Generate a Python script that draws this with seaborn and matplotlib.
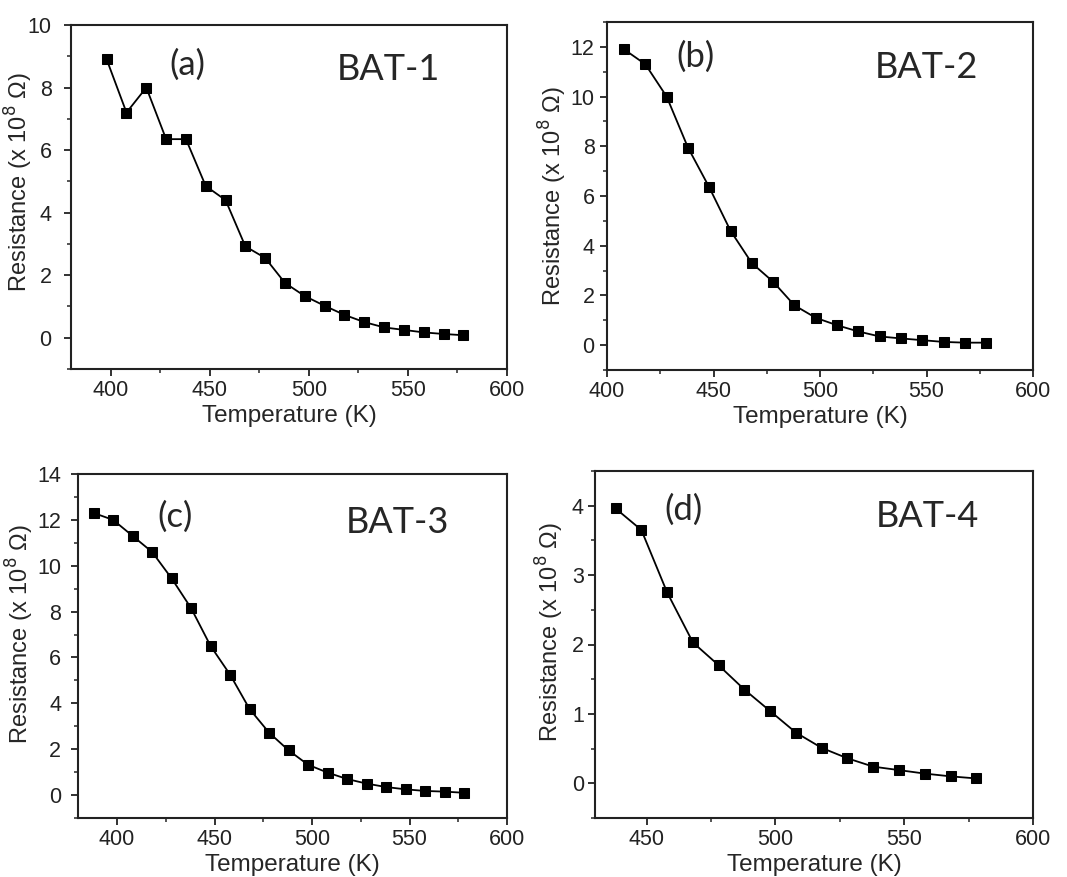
import numpy as np
import pandas as pd
import matplotlib
matplotlib.use("Agg")
import matplotlib.pyplot as plt
from matplotlib.ticker import MultipleLocator
import seaborn as sns

# data (resistance in units of 1e8 ohm)
temp_a = [398, 408, 418, 428, 438, 448, 458, 468, 478, 488, 498, 508, 518, 528, 538, 548, 558, 568, 578]
res_a = [8.9, 7.2, 8.0, 6.35, 6.35, 4.85, 4.4, 2.92, 2.55, 1.75, 1.33, 1.02, 0.73, 0.5, 0.33, 0.25, 0.17, 0.12, 0.08]

temp_b = [408, 418, 428, 438, 448, 458, 468, 478, 488, 498, 508, 518, 528, 538, 548, 558, 568, 578]
res_b = [11.9, 11.3, 10.0, 7.95, 6.35, 4.6, 3.3, 2.55, 1.6, 1.1, 0.8, 0.55, 0.35, 0.27, 0.2, 0.13, 0.1, 0.1]

temp_c = [388, 398, 408, 418, 428, 438, 448, 458, 468, 478, 488, 498, 508, 518, 528, 538, 548, 558, 568, 578]
res_c = [12.3, 12.0, 11.3, 10.6, 9.45, 8.15, 6.5, 5.25, 3.75, 2.72, 1.95, 1.32, 0.98, 0.7, 0.5, 0.35, 0.25, 0.18, 0.15, 0.1]

temp_d = [438, 448, 458, 468, 478, 488, 498, 508, 518, 528, 538, 548, 558, 568, 578]
res_d = [3.96, 3.65, 2.75, 2.03, 1.7, 1.35, 1.04, 0.73, 0.51, 0.36, 0.24, 0.19, 0.14, 0.1, 0.07]

panel_tags = ["(a)", "(b)", "(c)", "(d)"]
sample_names = ["BAT-1", "BAT-2", "BAT-3", "BAT-4"]

sns.set_style("ticks")
plt.rcParams['font.family'] = ['Liberation Sans', 'DejaVu Sans']

fig = plt.figure(figsize=(10.67, 8.77), dpi=100)
W, H = 1067, 877

#%% panel layout: pixel boxes (left, right, top, bottom)
boxes = [(71, 507, 25, 369), (607, 1033, 22, 370), (78, 507, 474, 818), (595, 1033, 471, 818)]
xlims = [(380, 600), (400, 600), (380, 600), (430, 600)]
ylims = [(-1, 10), (-1, 13), (-1, 14), (-0.5, 4.5)]
ymajor = [2, 2, 2, 1]
ypad = [9, 4, 7, 3]
ylab_pos = [(-0.082, 0.544), (-0.089, 0.5), (-0.097, 0.535), (-0.066, 0.536)]
tag_pos = [(0.266, 0.885), (0.207, 0.9), (0.226, 0.876), (0.201, 0.888)]
name_pos = [(0.727, 0.872), (0.751, 0.87), (0.744, 0.86), (0.758, 0.87)]

series = [(temp_a, res_a), (temp_b, res_b), (temp_c, res_c), (temp_d, res_d)]

for i, (t, r) in enumerate(series):
    l, rgt, top, bot = boxes[i]
    ax = fig.add_axes([l / W, 1 - bot / H, (rgt - l) / W, (bot - top) / H])
    df = pd.DataFrame({"T": t, "R": r})
    sns.lineplot(data=df, x="T", y="R", ax=ax, color="black", linewidth=1.3,
                 marker="s", markersize=7, markeredgecolor="black", markerfacecolor="black")
    ax.set_xlim(*xlims[i])
    ax.set_ylim(*ylims[i])
    ax.xaxis.set_major_locator(MultipleLocator(50))
    ax.xaxis.set_minor_locator(MultipleLocator(25))
    ax.yaxis.set_major_locator(MultipleLocator(ymajor[i]))
    ax.yaxis.set_minor_locator(MultipleLocator(ymajor[i] / 2))
    ax.tick_params(which="major", direction="out", length=5, width=1.3, labelsize=15.5,
                   colors="#222222", pad=3)
    ax.tick_params(axis="y", which="major", pad=ypad[i])
    ax.tick_params(which="minor", direction="out", length=3, width=1.1)
    for sp in ax.spines.values():
        sp.set_visible(True)
        sp.set_linewidth(1.5)
        sp.set_color("#222222")
    ax.set_xlabel("Temperature (K)", fontsize=17.5, labelpad=3)
    ax.set_ylabel("Resistance (x 10$^8$ Ω)", fontsize=17)
    ax.yaxis.set_label_coords(*ylab_pos[i])
    ax.text(*tag_pos[i], panel_tags[i], transform=ax.transAxes, ha="center", va="center",
            fontsize=25, family=["Lato", "DejaVu Sans"])
    ax.text(*name_pos[i], sample_names[i], transform=ax.transAxes, ha="center", va="center",
            fontsize=26, family=["Lato", "DejaVu Sans"])

fig.savefig("out.png", dpi=100)
